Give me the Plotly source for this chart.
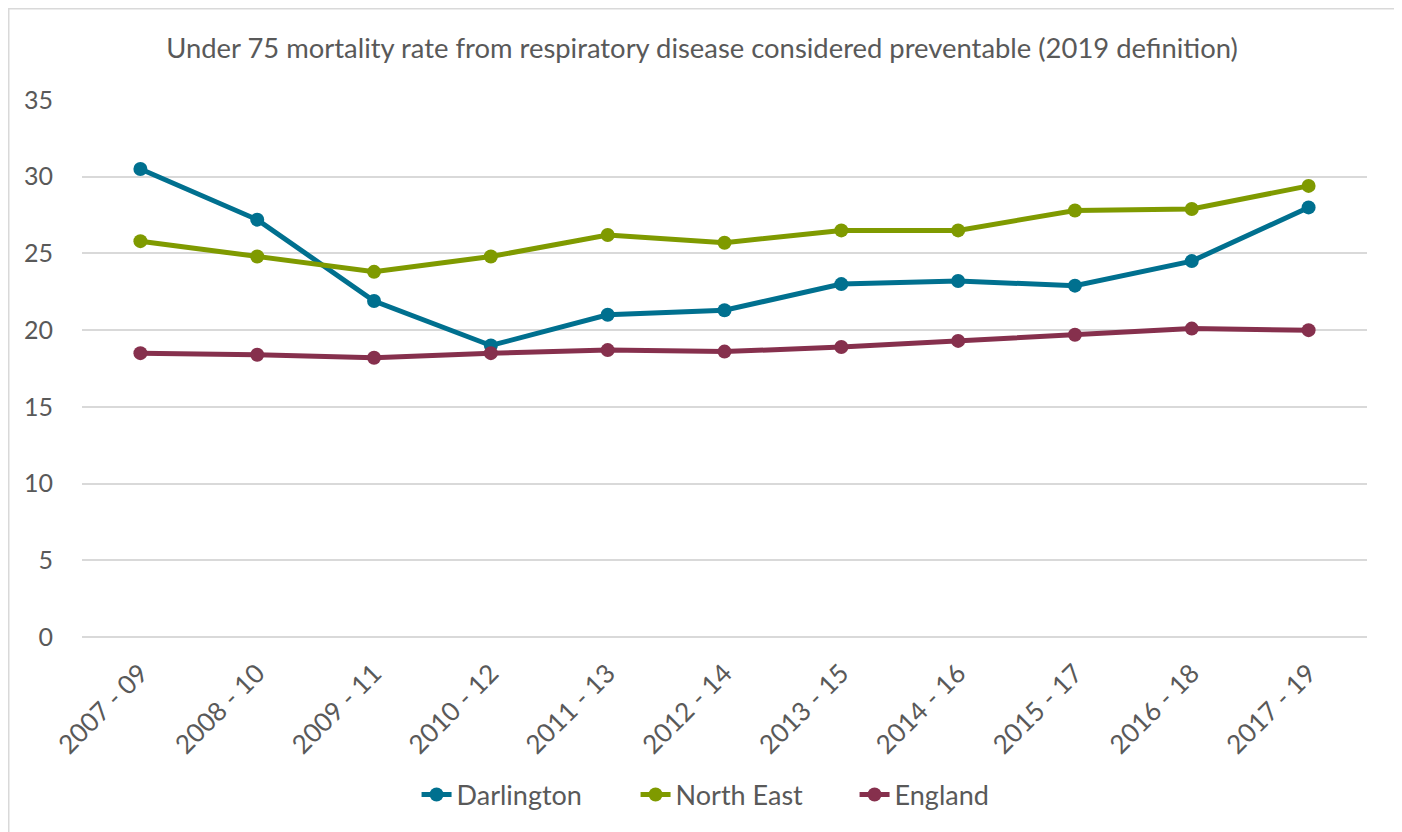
import plotly.graph_objects as go

periods = ["2007 - 09", "2008 - 10", "2009 - 11", "2010 - 12", "2011 - 13", "2012 - 14",
           "2013 - 15", "2014 - 16", "2015 - 17", "2016 - 18", "2017 - 19"]
darlington = [30.5, 27.2, 21.9, 19.0, 21.0, 21.3, 23.0, 23.2, 22.9, 24.5, 28.0]
north_east = [25.8, 24.8, 23.8, 24.8, 26.2, 25.7, 26.5, 26.5, 27.8, 27.9, 29.4]
england = [18.5, 18.4, 18.2, 18.5, 18.7, 18.6, 18.9, 19.3, 19.7, 20.1, 20.0]

series = [("Darlington", darlington, "#00708F"),
          ("North East", north_east, "#7F9A00"),
          ("England", england, "#86304D")]

FONT = "Lato"
GREY = "#595959"

fig = go.Figure()
for name, vals, col in series:
    fig.add_trace(go.Scatter(
        x=periods, y=vals, name=name, mode="lines+markers",
        line=dict(color=col, width=5),
        marker=dict(color=col, size=14),
    ))

fig.update_layout(
    width=1394, height=824,
    margin=dict(l=74, r=35, t=92, b=195),
    paper_bgcolor="white", plot_bgcolor="white",
    font=dict(family=FONT, color=GREY, size=24),
    title=dict(text="Under 75 mortality rate from respiratory disease considered preventable (2019 definition)",
               x=0.4979, xanchor="center", xref="container",
               y=1 - 40 / 824, yanchor="middle", yref="container",
               font=dict(family=FONT, size=27.4, color=GREY)),
    showlegend=True,
    legend=dict(orientation="h", x=0.516, xanchor="center", y=-0.294, yanchor="middle",
                font=dict(family=FONT, size=27, color=GREY),
                entrywidth=174, entrywidthmode="pixels",
                traceorder="normal"),
    shapes=[dict(type="rect", xref="paper", yref="paper",
                 x0=-0.0572, x1=1.0233, y0=-0.374, y1=1.1704,
                 line=dict(color="#D9D9D9", width=2), fillcolor="rgba(0,0,0,0)", layer="below")],
)
fig.update_xaxes(type="category", range=[-0.5, 10.5], tickangle=-45, showgrid=False, showline=False,
                 ticks="", ticklabelstandoff=15,
                 tickfont=dict(family=FONT, size=26, color=GREY))
fig.update_yaxes(range=[0, 35], dtick=5, showgrid=True, gridcolor="#D9D9D9", gridwidth=2,
                 zeroline=True, zerolinecolor="#D9D9D9", zerolinewidth=2,
                 showline=False, ticks="", ticklabelstandoff=28,
                 tickfont=dict(family=FONT, size=25, color=GREY))

fig.write_html("out.html")
